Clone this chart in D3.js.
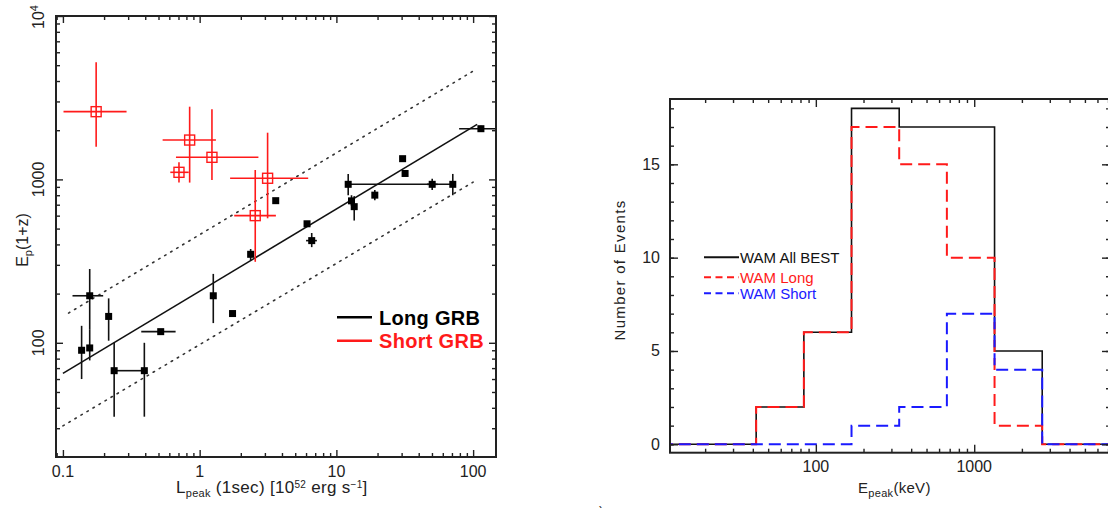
<!DOCTYPE html>
<html>
<head>
<meta charset="utf-8">
<script src="https://cdnjs.cloudflare.com/ajax/libs/d3/7.8.5/d3.min.js"></script>
<style>
  body { margin: 0; background: #fff; }
  svg { display: block; font-family: "Liberation Sans", Arial, sans-serif; }
</style>
</head>
<body>
<svg id="chart" width="1108" height="508"></svg>
<script>
// ---- left panel data: Ep(1+z) vs Lpeak ----
const longL    = [0.137, 0.157, 0.157, 0.216, 0.237, 0.394, 0.519, 1.258, 1.74, 2.36, 3.6, 6.1, 6.6, 12.2, 12.9, 13.5, 19.1, 30.5, 31.8, 50.2, 71, 114];
const longEp   = [90, 93, 194, 145, 67.5, 67.5, 117, 194, 151, 348, 741, 535, 422, 933, 739, 681, 801, 1339, 1087, 933, 933, 2043];
const longEpLo = [60, 78, 120, 103, 35.3, 35.3, null, 132, null, 320, null, null, 385, 800, 690, 560, 745, null, null, 860, 800, 1960];
const longEpHi = [127, 120, 283, 187, 100, 100, null, 264, null, 375, null, null, 470, 1080, 800, 790, 860, null, null, 1010, 1080, 2130];
const longLLo  = [null, null, 0.1175, null, 0.237, null, 0.374, null, null, null, null, null, 6.0, 12.2, null, null, null, null, null, 46, null, 79];
const longLHi  = [null, null, 0.197, null, 0.394, null, 0.667, null, null, null, null, null, 7.2, 71, null, null, null, null, null, 55, null, 160];

const shortL    = [0.175, 0.845, 1.23, 0.706, 3.14, 2.55];
const shortEp   = [2597, 1741, 1365, 1105, 1016, 600];
const shortEpLo = [1585, 956, 991, 956, 578, 313];
const shortEpHi = [5210, 2786, 2686, 1274, 1931, 1142];
const shortLLo  = [0.101, 0.536, 0.671, 0.61, 1.67, 1.79];
const shortLHi  = [0.292, 1.315, 2.69, 0.832, 6.22, 3.61];

// best fit and the +-3 sigma lines (end points)
const fitL = [0.1, 107],   fitEp = [65, 2170];
const upL  = [0.11, 100],  upEp  = [152, 4600];
const loL  = [0.1, 100],   loEp  = [31, 962];

const lTicksX = [0.1, 1, 10, 100];
const lTicksY = [100, 1000, 10000];

// ---- right panel data: Epeak histogram ----
const binEdges    = [10.5, 21, 42, 84, 168, 336, 672, 1344, 2688, 5376, 10752];
const allCounts   = [0, 0, 2, 6, 18, 17, 17, 5, 0, 0];
const longCounts  = [0, 0, 2, 6, 17, 15, 10, 1, 0, 0];
const shortCounts = [0, 0, 0, 0, 1, 2, 7, 4, 0, 0];
const rTicksX = [100, 1000];
const rTicksY = [0, 5, 10, 15];

const RED = "#ff1a1a", BLUE = "#1a1aff";

let svg = d3.select("#chart");

let logMinors = (lo, hi) => {
  let out = [];
  for (let d = Math.pow(10, Math.floor(Math.log10(lo))); d < hi; d *= 10) {
    for (let k = 2; k < 10; k++) {
      let v = k * d;
      if (v > lo && v < hi) out.push(v);
    }
  }
  return out;
};

// inward ticks on all four sides + frame
let frame = (g, x, y, xMaj, xMin, yMaj, yMin, big, small) => {
  let [x0, x1] = x.range(), [y0, y1] = y.range();
  let sides = [
    [d3.axisBottom, x, `translate(0,${y0})`, xMaj, xMin],
    [d3.axisTop, x, `translate(0,${y1})`, xMaj, xMin],
    [d3.axisLeft, y, `translate(${x0},0)`, yMaj, yMin],
    [d3.axisRight, y, `translate(${x1},0)`, yMaj, yMin]
  ];
  sides.forEach(([ax, sc, tr, maj, min]) => {
    [[maj, big], [min, small]].forEach(([vals, len]) => {
      let a = g.append("g").attr("transform", tr)
        .call(ax(sc).tickValues(vals).tickSize(-len).tickSizeOuter(0).tickFormat(""));
      a.select(".domain").remove();
      a.selectAll("line").attr("stroke", "#222").attr("stroke-width", 1.4);
    });
  });
  g.append("rect")
    .attr("x", x0).attr("y", y1).attr("width", x1 - x0).attr("height", y0 - y1)
    .attr("fill", "none").attr("stroke", "#222").attr("stroke-width", 2);
};

// ================= LEFT PANEL =================
let xL = d3.scaleLog().domain([0.089, 147]).range([56, 496]);
let yL = d3.scaleLog().domain([20, 10000]).range([457, 16]);
let gL = svg.append("g");

svg.append("clipPath").attr("id", "clipL").append("rect")
  .attr("x", 56).attr("y", 16).attr("width", 440).attr("height", 441);

let plotL = gL.append("g").attr("clip-path", "url(#clipL)");

let seg = (xs, ys) => d3.line().x(d => xL(d[0])).y(d => yL(d[1]))(d3.zip(xs, ys));

plotL.append("path").attr("d", seg(upL, upEp))
  .attr("fill", "none").attr("stroke", "#333").attr("stroke-width", 1.6)
  .attr("stroke-dasharray", "1.5,5.5").attr("stroke-linecap", "round");
plotL.append("path").attr("d", seg(loL, loEp))
  .attr("fill", "none").attr("stroke", "#333").attr("stroke-width", 1.6)
  .attr("stroke-dasharray", "1.5,5.5").attr("stroke-linecap", "round");
plotL.append("path").attr("d", seg(fitL, fitEp))
  .attr("fill", "none").attr("stroke", "#111").attr("stroke-width", 1.6);

// error bars
let errBars = (xs, ys, yLo, yHi, xLo, xHi, color) => {
  xs.forEach((v, i) => {
    if (yLo[i] !== null) {
      plotL.append("line").attr("x1", xL(v)).attr("x2", xL(v))
        .attr("y1", yL(yLo[i])).attr("y2", yL(yHi[i]))
        .attr("stroke", color).attr("stroke-width", 1.6);
    }
    if (xLo[i] !== null) {
      plotL.append("line").attr("x1", xL(xLo[i])).attr("x2", xL(xHi[i]))
        .attr("y1", yL(ys[i])).attr("y2", yL(ys[i]))
        .attr("stroke", color).attr("stroke-width", 1.6);
    }
  });
};
errBars(longL, longEp, longEpLo, longEpHi, longLLo, longLHi, "#111");
errBars(shortL, shortEp, shortEpLo, shortEpHi, shortLLo, shortLHi, RED);

plotL.selectAll("rect.long").data(d3.zip(longL, longEp)).enter()
  .append("rect").attr("class", "long")
  .attr("x", d => xL(d[0]) - 3.5).attr("y", d => yL(d[1]) - 3.5)
  .attr("width", 7).attr("height", 7).attr("fill", "#000");

plotL.selectAll("rect.short").data(d3.zip(shortL, shortEp)).enter()
  .append("rect").attr("class", "short")
  .attr("x", d => xL(d[0]) - 5).attr("y", d => yL(d[1]) - 5)
  .attr("width", 10).attr("height", 10)
  .attr("fill", "none").attr("stroke", RED).attr("stroke-width", 1.4);

frame(gL, xL, yL, lTicksX, logMinors(0.089, 147), lTicksY, logMinors(20, 10000), 7, 4);

// tick labels
gL.selectAll("text.xt").data(lTicksX).enter().append("text")
  .attr("x", d => xL(d)).attr("y", 477).attr("text-anchor", "middle")
  .attr("font-size", 16).attr("fill", "#222").text(d => d);

gL.selectAll("text.yt").data(lTicksY.slice(0, 2)).enter().append("text")
  .attr("transform", d => `translate(44,${yL(d)}) rotate(-90)`)
  .attr("text-anchor", "middle").attr("font-size", 16).attr("fill", "#222").text(d => d);
let t4 = gL.append("text")
  .attr("transform", `translate(44,${yL(10000) + 1}) rotate(-90)`)
  .attr("text-anchor", "middle").attr("font-size", 16).attr("fill", "#222");
t4.append("tspan").text("10");
t4.append("tspan").attr("dy", -6).attr("font-size", 11).text("4");

// axis titles
let yt = gL.append("text").attr("transform", "translate(28,240) rotate(-90)")
  .attr("text-anchor", "middle").attr("font-size", 16).attr("fill", "#222");
yt.append("tspan").text("E");
yt.append("tspan").attr("dy", 4).attr("font-size", 11).text("p");
yt.append("tspan").attr("dy", -4).text("(1+z)");

let xt = gL.append("text").attr("x", 176).attr("y", 493)
  .attr("font-size", 17).attr("letter-spacing", 0.3).attr("fill", "#222");
xt.append("tspan").text("L");
xt.append("tspan").attr("dy", 4).attr("font-size", 11).text("peak");
xt.append("tspan").attr("dy", -4).text(" (1sec) [10");
xt.append("tspan").attr("dy", -5).attr("font-size", 10).text("52");
xt.append("tspan").attr("dy", 5).text(" erg s");
xt.append("tspan").attr("dy", -5).attr("font-size", 10).text("\u22121");
xt.append("tspan").attr("dy", 5).text("]");

// legend
[["Long GRB", "#000", 317.3], ["Short GRB", RED, 340.7]].forEach(([name, c, ly]) => {
  gL.append("line").attr("x1", 337).attr("x2", 372).attr("y1", ly).attr("y2", ly)
    .attr("stroke", c).attr("stroke-width", 2.4);
  gL.append("text").attr("x", 379).attr("y", ly + 7.5)
    .attr("font-size", 20).attr("font-weight", "bold").attr("letter-spacing", 0.3)
    .attr("fill", c).text(name);
});

// ================= RIGHT PANEL =================
let xR = d3.scaleLog().domain([12, 7200]).range([670, 1110]);
let yR = d3.scaleLinear().domain([-0.45, 18.5]).range([452.7, 99]);
let gR = svg.append("g");

svg.append("clipPath").attr("id", "clipR").append("rect")
  .attr("x", 670).attr("y", 99).attr("width", 440).attr("height", 353.7);
let plotR = gR.append("g").attr("clip-path", "url(#clipR)");

let step = d3.line().x(d => xR(d[0])).y(d => yR(d[1])).curve(d3.curveStepAfter);
let histPts = counts => binEdges.map((e, i) => [e, i < counts.length ? counts[i] : counts[counts.length - 1]]);

plotR.append("path").attr("d", step(histPts(allCounts)))
  .attr("fill", "none").attr("stroke", "#111").attr("stroke-width", 1.6);
plotR.append("path").attr("d", step(histPts(longCounts)))
  .attr("fill", "none").attr("stroke", RED).attr("stroke-width", 2)
  .attr("stroke-dasharray", "12,6");
plotR.append("path").attr("d", step(histPts(shortCounts)))
  .attr("fill", "none").attr("stroke", BLUE).attr("stroke-width", 2)
  .attr("stroke-dasharray", "12,6");

frame(gR, xR, yR, rTicksX, logMinors(12, 7200), rTicksY, d3.range(0, 19), 8, 4);

gR.selectAll("text.xt").data(rTicksX).enter().append("text")
  .attr("x", d => xR(d)).attr("y", 472).attr("text-anchor", "middle")
  .attr("font-size", 16).attr("fill", "#222").text(d => d);
gR.selectAll("text.yt").data(rTicksY).enter().append("text")
  .attr("x", 660).attr("y", d => yR(d) + 5.5).attr("text-anchor", "end")
  .attr("font-size", 16).attr("fill", "#222").text(d => d);

gR.append("text").attr("transform", "translate(625,270) rotate(-90)")
  .attr("text-anchor", "middle").attr("font-size", 15).attr("letter-spacing", 1.3)
  .attr("fill", "#222").text("Number of Events");

let ex = gR.append("text").attr("x", 858).attr("y", 493).attr("font-size", 15)
  .attr("letter-spacing", 0.3).attr("fill", "#222");
ex.append("tspan").text("E");
ex.append("tspan").attr("dy", 4).attr("font-size", 11).text("peak");
ex.append("tspan").attr("dy", -4).text("(keV)");

// legend
[["WAM All BEST", "#111", 257.3, null], ["WAM Long", RED, 277.3, "7,4.5"], ["WAM Short", BLUE, 293.3, "7,4.5"]]
  .forEach(([name, c, ly, dash]) => {
    gR.append("line").attr("x1", 704).attr("x2", 739).attr("y1", ly).attr("y2", ly)
      .attr("stroke", c).attr("stroke-width", 2).attr("stroke-dasharray", dash);
    gR.append("text").attr("x", 740).attr("y", ly + 5.5)
      .attr("font-size", 15).attr("fill", c).text(name);
  });

// stray glyph at the bottom edge of the original figure
svg.append("text").attr("x", 599).attr("y", 517).attr("font-size", 14).attr("fill", "#333").text(")");
</script>
</body>
</html>
